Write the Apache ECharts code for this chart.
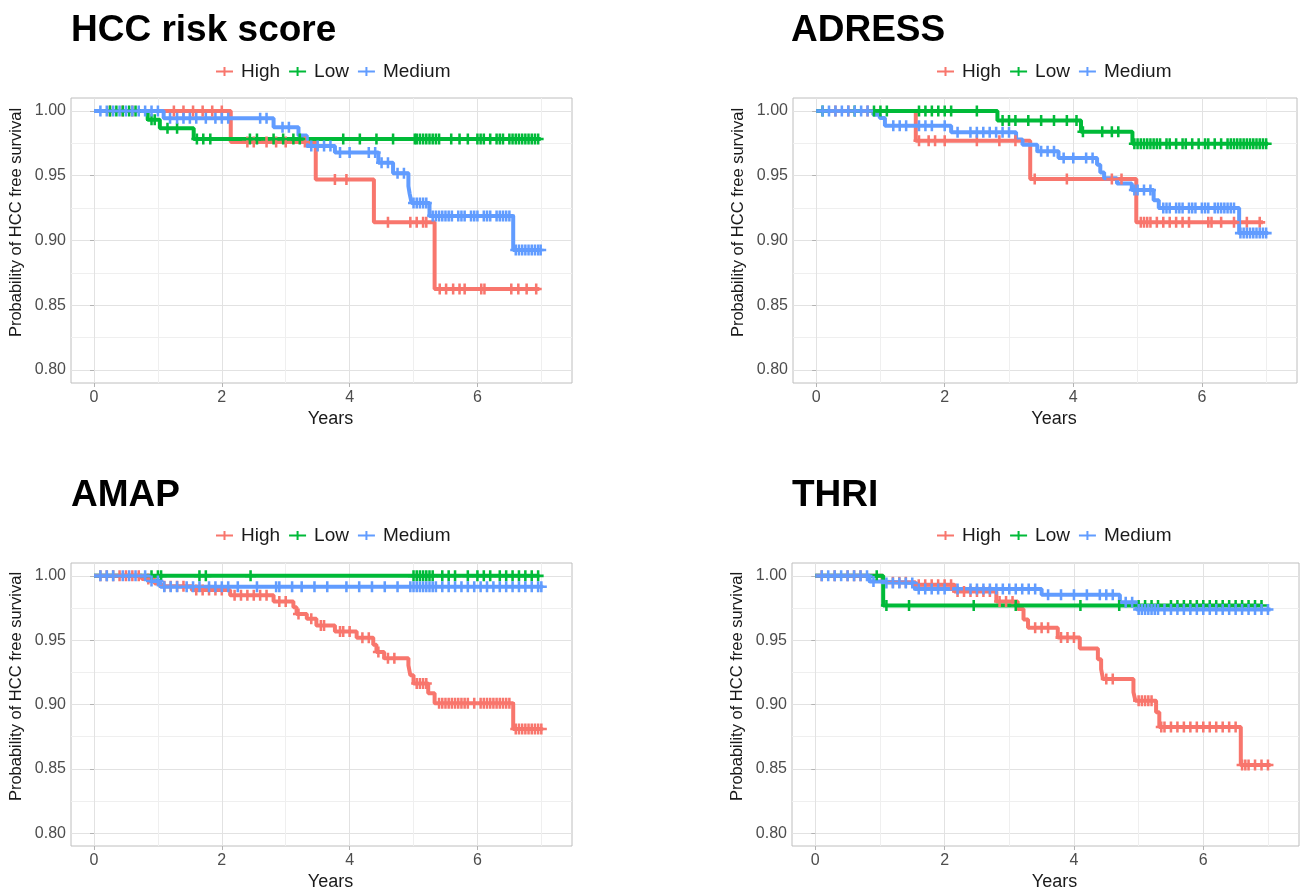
<!DOCTYPE html>
<html><head><meta charset="utf-8">
<script src="https://cdn.jsdelivr.net/npm/echarts@6/dist/echarts.min.js"></script>
<style>html,body{margin:0;padding:0;background:#fff}#c{width:1313px;height:892px}</style>
</head><body><div id="c"></div><script>
// ---------------- data ----------------
const groups = ['High', 'Low', 'Medium'];
const panelTitles = ['HCC risk score', 'ADRESS', 'AMAP', 'THRI'];
const xTicks = [0, 2, 4, 6];
const xMinor = [1, 3, 5, 7];
const yTicks = [0.80, 0.85, 0.90, 0.95, 1.00];
const yMinor = [0.825, 0.875, 0.925, 0.975];

// Kaplan-Meier step curves: [time (years), survival]
const hccHigh = [[0,1],[2.14,0.976],[3.47,0.947],[4.38,0.914],[5.33,0.8625],[6.97,0.8625]];
const hccLow  = [[0,1],[0.84,0.9933],[1.03,0.9866],[1.56,0.9784],[6.99,0.9784]];
const hccMed  = [[0,1],[1.09,0.9944],[2.81,0.9874],[3.2,0.981],[3.33,0.973],[3.77,0.968],[4.45,0.960],[4.68,0.952],[4.92,0.942],[4.94,0.936],[4.97,0.929],[5.25,0.919],[6.56,0.8927],[6.99,0.8927]];

const adrHigh = [[0,1],[1.55,0.977],[3.33,0.9474],[4.98,0.914],[6.95,0.914]];
const adrLow  = [[0,1],[2.82,0.9927],[4.12,0.984],[4.92,0.9747],[7.03,0.9747]];
const adrMed  = [[0,1],[0.89,0.997],[0.99,0.9946],[1.07,0.9886],[2.1,0.9835],[3.11,0.978],[3.21,0.974],[3.44,0.9688],[3.77,0.9637],[4.37,0.9585],[4.42,0.9525],[4.48,0.948],[4.68,0.944],[4.91,0.939],[5.25,0.931],[5.33,0.925],[6.58,0.9057],[7.03,0.9057]];

const amapHigh = [[0,1],[0.75,0.9975],[0.95,0.994],[1.05,0.992],[1.53,0.989],[2.13,0.985],[2.81,0.980],[3.12,0.9756],[3.17,0.9704],[3.33,0.9666],[3.48,0.9614],[3.77,0.9568],[4.11,0.9519],[4.37,0.9465],[4.42,0.9408],[4.54,0.936],[4.92,0.9305],[4.95,0.9228],[5.0,0.9164],[5.23,0.9087],[5.33,0.901],[6.56,0.881],[7.02,0.881]];
const amapLow  = [[0,1],[6.97,1]];
const amapMed  = [[0,1],[0.85,0.996],[1.04,0.9915],[7.02,0.9915]];

const thriHigh = [[0,1],[1.04,0.995],[1.55,0.993],[2.15,0.9879],[2.8,0.980],[3.13,0.9743],[3.22,0.966],[3.29,0.9597],[3.75,0.952],[4.09,0.9435],[4.37,0.9352],[4.42,0.9275],[4.45,0.9198],[4.92,0.9095],[4.95,0.903],[5.27,0.894],[5.32,0.8825],[6.58,0.853],[7.04,0.853]];
const thriLow  = [[0,1],[1.05,0.9769],[6.92,0.9769]];
const thriMed  = [[0,1],[0.84,0.9956],[1.0,0.9944],[1.54,0.9897],[3.5,0.9853],[4.71,0.9794],[4.97,0.9738],[7.04,0.9738]];

// censoring times (years)
const hccHighCens = [0.25,0.45,0.6,1.25,1.4,1.55,1.7,1.85,2.0,2.4,2.5,2.7,2.85,3.0,3.3,3.77,3.95,4.6,4.95,5.05,5.15,5.2,5.41,5.51,5.62,5.72,5.8,6.06,6.11,6.53,6.64,6.77,6.92];
const hccLowCens  = [0.25,0.35,0.45,0.55,0.65,0.9,0.95,1.15,1.3,1.61,1.71,1.82,2.44,2.55,2.81,2.96,3.12,3.22,3.9,4.16,4.42,4.68,5.02,5.05,5.1,5.15,5.2,5.25,5.3,5.35,5.4,5.59,5.72,5.85,6.0,6.05,6.1,6.2,6.3,6.35,6.4,6.5,6.55,6.6,6.65,6.7,6.75,6.8,6.85,6.9,6.95];
const hccMedCens  = [0.1,0.2,0.3,0.4,0.5,0.6,0.7,0.8,0.9,1.0,1.19,1.3,1.4,1.5,1.6,1.75,1.9,2.0,2.1,2.6,2.7,2.95,3.05,3.4,3.5,3.6,3.7,3.85,4.0,4.3,4.4,4.5,4.6,4.75,4.85,5.0,5.05,5.1,5.15,5.2,5.3,5.35,5.4,5.45,5.5,5.55,5.6,5.7,5.75,5.8,5.9,5.95,6.0,6.1,6.15,6.2,6.3,6.35,6.4,6.45,6.5,6.6,6.65,6.7,6.75,6.8,6.85,6.9,6.95,6.99];

const adrHighCens = [0.3,0.5,0.8,1.6,1.75,1.85,2.0,2.5,2.85,3.1,3.4,3.9,4.6,4.75,5.05,5.1,5.15,5.2,5.3,5.4,5.5,5.6,5.7,5.8,6.1,6.15,6.3,6.5,6.7,6.9];
const adrLowCens  = [0.1,0.6,0.9,1.0,1.1,1.6,1.7,1.8,1.9,2.0,2.1,2.5,2.9,3.0,3.1,3.3,3.5,3.7,3.9,4.05,4.15,4.45,4.6,4.7,4.95,5.0,5.05,5.1,5.15,5.2,5.25,5.3,5.35,5.45,5.5,5.6,5.7,5.75,5.85,5.95,6.05,6.1,6.2,6.3,6.4,6.45,6.5,6.55,6.6,6.65,6.7,6.75,6.8,6.85,6.9,6.95,7.0];
const adrMedCens  = [0.1,0.2,0.3,0.4,0.5,0.6,0.7,0.8,1.2,1.3,1.4,1.6,1.7,1.8,2.0,2.2,2.4,2.5,2.6,2.7,2.8,2.9,3.0,3.5,3.6,3.7,3.85,4.0,4.2,4.3,4.95,5.0,5.1,5.2,5.4,5.45,5.5,5.6,5.65,5.7,5.8,5.85,5.9,6.0,6.05,6.1,6.2,6.25,6.3,6.35,6.4,6.45,6.5,6.6,6.65,6.7,6.75,6.8,6.85,6.9,6.95,7.0];

const amapHighCens = [0.1,0.2,0.3,0.4,0.5,0.6,0.7,0.85,1.1,1.2,1.3,1.4,1.6,1.7,1.8,1.9,2.0,2.2,2.3,2.4,2.5,2.6,2.7,2.9,3.0,3.2,3.4,3.55,3.6,3.85,3.9,4.0,4.2,4.3,4.45,4.6,4.7,5.05,5.1,5.15,5.2,5.4,5.45,5.5,5.55,5.6,5.65,5.7,5.75,5.8,5.85,5.95,6.05,6.1,6.15,6.2,6.25,6.3,6.35,6.4,6.45,6.5,6.6,6.65,6.7,6.75,6.8,6.85,6.9,6.95,7.0];
const amapLowCens  = [0.9,1.0,1.05,1.65,1.75,2.45,5.0,5.05,5.1,5.15,5.2,5.25,5.3,5.45,5.55,5.65,5.85,6.0,6.1,6.2,6.35,6.45,6.55,6.65,6.75,6.85,6.95];
const amapMedCens  = [0.1,0.2,0.3,0.45,0.55,0.65,0.8,0.9,1.0,1.1,1.2,1.3,1.45,1.55,1.65,1.8,1.9,2.0,2.1,2.25,2.55,2.85,2.9,3.1,3.25,3.45,3.65,3.95,4.15,4.35,4.55,4.75,4.95,5.0,5.05,5.1,5.15,5.2,5.25,5.3,5.35,5.45,5.55,5.65,5.75,5.85,5.95,6.05,6.15,6.25,6.35,6.45,6.55,6.65,6.75,6.85,6.95,7.0];

const thriHighCens = [0.1,0.3,0.5,0.6,0.7,1.2,1.3,1.4,1.6,1.7,1.8,1.9,2.0,2.1,2.2,2.3,2.4,2.5,2.6,2.7,2.85,2.95,3.05,3.4,3.5,3.6,3.8,3.9,4.0,4.5,4.6,5.0,5.05,5.1,5.15,5.2,5.35,5.4,5.5,5.6,5.7,5.8,5.9,6.0,6.1,6.2,6.3,6.4,6.5,6.6,6.65,6.7,6.8,6.9,7.0];
const thriLowCens  = [0.95,1.1,1.45,2.45,3.1,4.1,4.7,5.0,5.1,5.2,5.3,5.5,5.6,5.7,5.8,5.9,6.0,6.1,6.2,6.3,6.4,6.5,6.6,6.7,6.8,6.9];
const thriMedCens  = [0.1,0.2,0.3,0.4,0.5,0.6,0.7,0.8,0.9,1.1,1.2,1.3,1.4,1.5,1.6,1.7,1.8,1.9,2.0,2.2,2.4,2.5,2.6,2.7,2.8,2.9,3.0,3.1,3.2,3.3,3.4,3.6,3.8,4.0,4.2,4.4,4.5,4.6,4.8,4.9,5.0,5.05,5.1,5.15,5.2,5.25,5.3,5.4,5.5,5.6,5.7,5.8,5.9,6.0,6.1,6.2,6.3,6.4,6.5,6.6,6.7,6.8,6.9,7.0];

// ---------------- layout / style ----------------
const colors = ['#F8766D', '#00BA38', '#619CFF'];
const FONT = '"Liberation Sans", Arial, Helvetica, sans-serif';
const gridBoxes = [
  {left: 71, top: 98, width: 501, height: 285},
  {left: 793, top: 98, width: 504, height: 285},
  {left: 71, top: 563, width: 501, height: 284},
  {left: 792, top: 563, width: 507, height: 284}
];
const titlePos = [{left: 71, top: 12}, {left: 791, top: 12}, {left: 71, top: 477}, {left: 792, top: 477}];
const legendPos = [{left: 216, top: 62}, {left: 937, top: 62}, {left: 216, top: 526}, {left: 937, top: 526}];

const curves = [[hccHigh, hccLow, hccMed], [adrHigh, adrLow, adrMed], [amapHigh, amapLow, amapMed], [thriHigh, thriLow, thriMed]];
const cens = [[hccHighCens, hccLowCens, hccMedCens], [adrHighCens, adrLowCens, adrMedCens], [amapHighCens, amapLowCens, amapMedCens], [thriHighCens, thriLowCens, thriMedCens]];

function survAt(curve, t) {
  let s = curve[0][1];
  for (const [ti, si] of curve) { if (ti <= t) s = si; else break; }
  return s;
}

const plusPath = 'path://M4,0H6.4V4H10.4V6.4H6.4V10.4H4V6.4H0V4H4Z';
const legendIcon = 'path://M0,4H7.5V0.5H9.5V4H17V6H9.5V9.5H7.5V6H0Z';

const X_MIN = -0.36, X_MAX = 7.48, Y_MIN = 0.79, Y_MAX = 1.01;

const option = {
  animation: false,
  backgroundColor: '#fff',
  title: panelTitles.map((t, i) => ({
    text: t, left: titlePos[i].left, top: titlePos[i].top, padding: 0,
    textStyle: {fontSize: 37, fontWeight: 'bold', color: '#000', fontFamily: FONT}
  })),
  legend: legendPos.map(p => ({
    data: groups, left: p.left, top: p.top, padding: 0, orient: 'horizontal',
    icon: legendIcon, itemWidth: 17, itemHeight: 10, itemGap: 9,
    textStyle: {fontSize: 19, color: '#1a1a1a', fontFamily: FONT, padding: [0, 0, 0, 3]}
  })),
  grid: gridBoxes.map(g => ({
    left: g.left, top: g.top, width: g.width, height: g.height,
    show: true, borderColor: '#BEBEBE', borderWidth: 1, backgroundColor: 'transparent'
  })),
  xAxis: [], yAxis: [], series: []
};

for (let p = 0; p < 4; p++) {
  option.xAxis.push({
    type: 'value', gridIndex: p, min: X_MIN, max: X_MAX,
    axisLine: {show: false},
    axisTick: {show: true, customValues: xTicks, length: 4, lineStyle: {color: '#B3B3B3'}},
    axisLabel: {customValues: xTicks, fontSize: 16, color: '#4D4D4D', margin: 7, fontFamily: FONT},
    splitLine: {show: true, lineStyle: {color: '#E2E2E2', width: 1}},
    name: 'Years', nameLocation: 'middle', nameGap: 27,
    nameTextStyle: {fontSize: 18, color: '#1a1a1a', fontFamily: FONT, padding: [0, 0, 0, 18]}
  });
  option.xAxis.push({
    type: 'value', gridIndex: p, min: X_MIN, max: X_MAX, position: 'bottom',
    axisLine: {show: false}, axisLabel: {show: false},
    axisTick: {show: false, customValues: xMinor},
    splitLine: {show: true, lineStyle: {color: '#EFEFEF', width: 1}}
  });
  option.yAxis.push({
    type: 'value', gridIndex: p, min: Y_MIN, max: Y_MAX,
    axisLine: {show: false},
    axisTick: {show: true, customValues: yTicks, length: 4, lineStyle: {color: '#B3B3B3'}},
    axisLabel: {customValues: yTicks, fontSize: 16, color: '#4D4D4D', margin: 5, fontFamily: FONT,
      formatter: v => Number(v).toFixed(2)},
    splitLine: {show: true, lineStyle: {color: '#E2E2E2', width: 1}},
    name: 'Probability of HCC free survival', nameLocation: 'middle', nameGap: 46,
    nameTextStyle: {fontSize: 16.5, color: '#1a1a1a', fontFamily: FONT, padding: [0, 0, 0, 36]}
  });
  option.yAxis.push({
    type: 'value', gridIndex: p, min: Y_MIN, max: Y_MAX, position: 'left',
    axisLine: {show: false}, axisLabel: {show: false},
    axisTick: {show: false, customValues: yMinor},
    splitLine: {show: true, lineStyle: {color: '#EFEFEF', width: 1}}
  });
  for (let g = 0; g < 3; g++) {
    const curve = curves[p][g];
    option.series.push({
      type: 'line', name: groups[g], step: 'end', xAxisIndex: 2 * p, yAxisIndex: 2 * p,
      data: curve, showSymbol: false, symbol: 'none', silent: true, z: 2 + g * 0.1,
      color: colors[g], lineStyle: {width: 4, color: colors[g]}, itemStyle: {color: colors[g]}
    });
  }
  for (let g = 0; g < 3; g++) {
    const curve = curves[p][g];
    option.series.push({
      type: 'scatter', name: groups[g], xAxisIndex: 2 * p, yAxisIndex: 2 * p,
      data: cens[p][g].map(t => [t, survAt(curve, t)]),
      symbol: plusPath, symbolSize: 11, silent: true, z: 3,
      itemStyle: {color: colors[g], opacity: 1}
    });
  }
}

const chart = echarts.init(document.getElementById('c'), null, {renderer: 'canvas'});
chart.setOption(option);
</script></body></html>
